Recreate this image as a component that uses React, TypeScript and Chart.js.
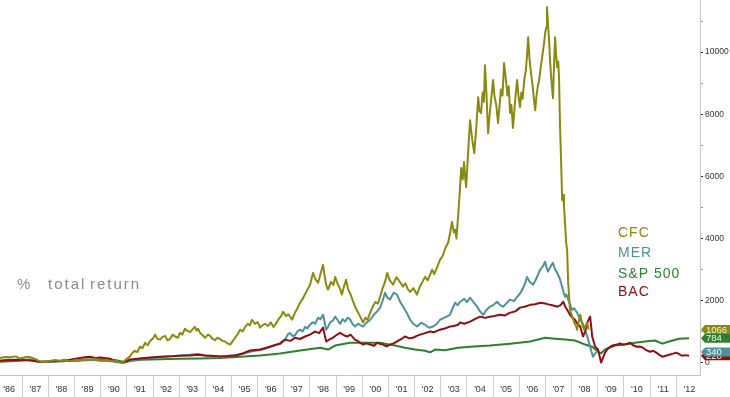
import React, { useEffect, useRef } from 'react';
import { Chart, registerables } from 'chart.js';

Chart.register(...registerables);

// ---- axis labels / ticks ----
const xTickLabels = ["'86", "'87", "'88", "'89", "'90", "'91", "'92", "'93", "'94", "'95", "'96", "'97", "'98", "'99", "'00", "'01", "'02", "'03", "'04", "'05", "'06", "'07", "'08", "'09", "'10", "'11", "'12"];
const firstLabelYear = 1986.5;
const yTickValues = [0, 1000, 2000, 3000, 4000, 5000, 6000, 7000, 8000, 9000, 10000, 11000];
const X_MIN = 1986.15;
const X_MAX = 2012.91;
const Y_MIN = -400;
const Y_MAX = 11680;

// ---- series: [year, % total return] ----
const cfc: [number, number][] = [
  [1986.15, 150], [1986.35, 180], [1986.54, 170], [1986.75, 200], [1986.92, 130], [1987.19, 190], [1987.3, 170],
  [1987.5, 120], [1987.68, 40], [1987.9, 20], [1988.06, 50], [1988.25, 80], [1988.45, 60], [1988.65, 90],
  [1988.83, 40], [1989.0, 80], [1989.21, 70], [1989.4, 110], [1989.59, 90], [1989.8, 120], [1989.98, 60],
  [1990.2, 90], [1990.36, 50], [1990.55, 70], [1990.74, 10], [1990.85, 20], [1991.0, 120], [1991.12, 200],
  [1991.2, 300], [1991.3, 380], [1991.4, 340], [1991.5, 510], [1991.6, 470], [1991.7, 640], [1991.8, 560],
  [1991.89, 700], [1992.0, 780], [1992.08, 900], [1992.15, 780], [1992.27, 740], [1992.35, 820], [1992.46, 860],
  [1992.55, 720], [1992.65, 760], [1992.75, 900], [1992.84, 840], [1992.95, 800], [1993.03, 960], [1993.12, 900],
  [1993.22, 1090], [1993.32, 1020], [1993.42, 980], [1993.5, 1060], [1993.6, 1150], [1993.66, 1030], [1993.72, 1090],
  [1993.8, 950], [1993.9, 880], [1993.99, 800], [1994.1, 900], [1994.18, 860], [1994.28, 760], [1994.37, 720],
  [1994.46, 800], [1994.56, 760], [1994.65, 700], [1994.75, 680], [1994.85, 620], [1994.95, 580], [1995.05, 700],
  [1995.14, 800], [1995.24, 920], [1995.33, 1060], [1995.43, 1000], [1995.52, 1150], [1995.62, 1250], [1995.7, 1200],
  [1995.78, 1380], [1995.9, 1250], [1996.0, 1300], [1996.09, 1125], [1996.18, 1200], [1996.28, 1250], [1996.4, 1180],
  [1996.5, 1300], [1996.6, 1150], [1996.67, 1220], [1996.8, 1400], [1996.9, 1500], [1996.97, 1640], [1997.08, 1500],
  [1997.18, 1550], [1997.32, 1380], [1997.42, 1600], [1997.52, 1750], [1997.62, 1930], [1997.72, 2050], [1997.81, 2200],
  [1997.9, 2350], [1998.0, 2500], [1998.06, 2700], [1998.12, 2890], [1998.2, 2700], [1998.31, 2570], [1998.4, 2850],
  [1998.5, 3150], [1998.56, 2800], [1998.62, 2500], [1998.69, 2350], [1998.8, 2600], [1998.9, 2500], [1998.96, 2760],
  [1999.05, 2550], [1999.14, 2400], [1999.22, 2190], [1999.3, 2450], [1999.38, 2670], [1999.46, 2350], [1999.55, 2200],
  [1999.65, 1960], [1999.75, 1750], [1999.85, 1600], [1999.92, 1480], [2000.03, 1290], [2000.12, 1450], [2000.2, 1380],
  [2000.3, 1610], [2000.4, 1800], [2000.5, 1950], [2000.6, 1900], [2000.68, 2120], [2000.78, 2400], [2000.87, 2600],
  [2000.95, 2890], [2001.05, 2650], [2001.18, 2510], [2001.3, 2750], [2001.44, 2600], [2001.55, 2450], [2001.65, 2550],
  [2001.75, 2350], [2001.83, 2280], [2001.95, 2400], [2002.09, 2190], [2002.2, 2450], [2002.3, 2600], [2002.4, 2760],
  [2002.5, 2650], [2002.6, 2850], [2002.67, 2990], [2002.75, 2850], [2002.85, 3050], [2002.97, 3310], [2003.08, 3450],
  [2003.18, 3700], [2003.28, 3860], [2003.34, 4100], [2003.43, 4530], [2003.5, 4200], [2003.55, 4280], [2003.6, 4000],
  [2003.66, 4690], [2003.72, 5400], [2003.78, 6270], [2003.84, 5900], [2003.89, 6460], [2003.93, 6000], [2003.97, 5660],
  [2004.04, 6700], [2004.12, 7810], [2004.2, 7200], [2004.28, 6750], [2004.36, 7600], [2004.43, 8550], [2004.48, 8100],
  [2004.54, 8040], [2004.6, 8700], [2004.65, 8400], [2004.69, 9580], [2004.75, 8600], [2004.81, 7390], [2004.87, 8000],
  [2004.93, 8500], [2005.0, 9100], [2005.05, 8600], [2005.12, 8300], [2005.19, 7720], [2005.25, 8300], [2005.3, 8800],
  [2005.36, 8600], [2005.42, 9650], [2005.48, 9200], [2005.55, 8600], [2005.6, 8900], [2005.65, 8040], [2005.7, 8300],
  [2005.76, 7560], [2005.82, 8200], [2005.87, 8700], [2005.92, 9100], [2005.97, 8600], [2006.03, 8230], [2006.08, 8700],
  [2006.13, 8500], [2006.19, 9100], [2006.25, 9400], [2006.3, 9900], [2006.34, 10480], [2006.4, 9700], [2006.45, 9320],
  [2006.5, 9000], [2006.56, 8500], [2006.61, 8130], [2006.66, 8600], [2006.71, 8900], [2006.76, 9100], [2006.82, 9500],
  [2006.87, 9800], [2006.91, 10060], [2006.95, 10300], [2006.99, 10610], [2007.03, 10800], [2007.06, 11450], [2007.1, 10900],
  [2007.14, 10380], [2007.18, 9700], [2007.22, 9200], [2007.26, 8800], [2007.29, 8520], [2007.33, 9600], [2007.37, 10480],
  [2007.41, 9900], [2007.45, 9520], [2007.49, 9700], [2007.52, 9200], [2007.56, 7590], [2007.6, 6500], [2007.64, 5240],
  [2007.68, 5400], [2007.71, 5020], [2007.75, 4500], [2007.79, 3900], [2007.83, 3630], [2007.87, 2570], [2007.94, 1700],
  [2008.02, 1500], [2008.1, 1290], [2008.16, 1200], [2008.21, 1060], [2008.27, 1300], [2008.33, 1540], [2008.4, 1250],
  [2008.48, 1060], [2008.55, 1200], [2008.6, 1290], [2008.65, 1066],
];

const mer: [number, number][] = [
  [1986.15, 60], [1986.5, 90], [1986.92, 80], [1987.3, 100], [1987.68, 20], [1988.1, 30], [1988.45, 40],
  [1988.85, 60], [1989.21, 80], [1989.6, 100], [1989.98, 60], [1990.3, 50], [1990.55, 30], [1990.85, -10],
  [1991.2, 60], [1991.5, 120], [1991.9, 150], [1992.27, 180], [1992.65, 200], [1993.03, 230], [1993.4, 250],
  [1993.72, 280], [1994.0, 230], [1994.37, 210], [1994.65, 190], [1994.95, 220], [1995.33, 260], [1995.5, 300],
  [1995.71, 350], [1995.9, 380], [1996.09, 400], [1996.3, 450], [1996.47, 510], [1996.65, 560], [1996.86, 600],
  [1996.95, 680], [1997.05, 740], [1997.15, 900], [1997.24, 960], [1997.33, 850], [1997.43, 880], [1997.52, 1000],
  [1997.62, 1060], [1997.72, 1000], [1997.81, 1150], [1997.9, 1100], [1998.0, 1220], [1998.1, 1300], [1998.2, 1250],
  [1998.31, 1450], [1998.4, 1400], [1998.5, 1540], [1998.56, 1300], [1998.62, 1060], [1998.69, 1150], [1998.77, 1290],
  [1998.87, 1350], [1998.96, 1480], [1999.05, 1380], [1999.15, 1250], [1999.25, 1400], [1999.34, 1320], [1999.44, 1450],
  [1999.53, 1400], [1999.62, 1250], [1999.72, 1160], [1999.85, 1250], [2000.03, 1160], [2000.15, 1280], [2000.3, 1380],
  [2000.45, 1550], [2000.57, 1650], [2000.68, 1770], [2000.78, 2000], [2000.87, 2250], [2000.95, 2100], [2001.06, 2030],
  [2001.2, 2250], [2001.33, 2190], [2001.45, 1950], [2001.56, 1800], [2001.7, 1600], [2001.83, 1380], [2001.95, 1250],
  [2002.09, 1160], [2002.25, 1280], [2002.4, 1220], [2002.55, 1120], [2002.71, 1160], [2002.85, 1250], [2002.97, 1380],
  [2003.15, 1450], [2003.35, 1540], [2003.45, 1750], [2003.55, 1930], [2003.65, 1850], [2003.74, 1960], [2003.9, 2050],
  [2004.0, 1950], [2004.12, 2090], [2004.25, 1950], [2004.39, 1800], [2004.5, 1650], [2004.62, 1540], [2004.75, 1700],
  [2004.88, 1800], [2005.0, 1850], [2005.15, 1960], [2005.27, 1850], [2005.38, 1800], [2005.5, 1900], [2005.65, 2030],
  [2005.8, 1980], [2005.92, 2120], [2006.05, 2250], [2006.15, 2410], [2006.22, 2550], [2006.3, 2760], [2006.4, 2600],
  [2006.53, 2510], [2006.65, 2700], [2006.8, 2990], [2006.9, 3100], [2006.99, 3250], [2007.05, 3050], [2007.1, 2930],
  [2007.2, 3100], [2007.29, 3210], [2007.37, 3000], [2007.45, 2890], [2007.55, 2700], [2007.64, 2440], [2007.7, 2250],
  [2007.75, 2120], [2007.8, 2200], [2007.87, 2030], [2007.95, 1850], [2008.02, 1700], [2008.1, 1750], [2008.21, 1610],
  [2008.3, 1450], [2008.41, 1290], [2008.5, 1100], [2008.6, 840], [2008.71, 510], [2008.76, 350], [2008.82, 190],
  [2008.95, 340],
];

const bac: [number, number][] = [
  [1986.15, 60], [1986.5, 80], [1986.92, 90], [1987.3, 70], [1987.68, 30], [1988.1, 40], [1988.45, 60],
  [1988.83, 90], [1989.21, 150], [1989.4, 170], [1989.59, 190], [1989.8, 150], [1989.98, 160], [1990.2, 140],
  [1990.36, 120], [1990.55, 60], [1990.85, 0], [1991.12, 100], [1991.5, 130], [1991.89, 160], [1992.27, 190],
  [1992.65, 200], [1993.03, 220], [1993.42, 230], [1993.7, 250], [1993.99, 225], [1994.3, 210], [1994.56, 200],
  [1994.85, 210], [1995.14, 230], [1995.45, 300], [1995.71, 390], [1996.09, 420], [1996.3, 470], [1996.47, 510],
  [1996.65, 560], [1996.86, 620], [1997.05, 740], [1997.25, 700], [1997.43, 800], [1997.62, 760], [1997.81, 840],
  [1998.0, 900], [1998.19, 1000], [1998.35, 950], [1998.5, 1125], [1998.56, 900], [1998.62, 680], [1998.75, 750],
  [1998.88, 800], [1999.0, 880], [1999.15, 960], [1999.3, 880], [1999.42, 840], [1999.55, 900], [1999.72, 740],
  [1999.85, 680], [2000.03, 580], [2000.15, 620], [2000.3, 580], [2000.45, 540], [2000.57, 640], [2000.7, 600],
  [2000.8, 580], [2000.92, 520], [2001.06, 580], [2001.2, 620], [2001.33, 680], [2001.5, 760], [2001.63, 840],
  [2001.8, 780], [2001.94, 800], [2002.08, 860], [2002.21, 900], [2002.4, 950], [2002.59, 1000], [2002.75, 980],
  [2002.97, 1060], [2003.15, 1100], [2003.35, 1160], [2003.5, 1180], [2003.66, 1220], [2003.74, 1290], [2003.9, 1250],
  [2004.12, 1320], [2004.3, 1400], [2004.5, 1480], [2004.7, 1440], [2004.88, 1480], [2005.05, 1500], [2005.27, 1540],
  [2005.45, 1520], [2005.65, 1610], [2005.85, 1650], [2006.03, 1770], [2006.2, 1800], [2006.42, 1860], [2006.6, 1880],
  [2006.8, 1930], [2007.0, 1900], [2007.18, 1860], [2007.3, 1840], [2007.45, 1800], [2007.58, 1850], [2007.68, 1960],
  [2007.76, 1800], [2007.83, 1700], [2007.94, 1540], [2008.03, 1450], [2008.13, 1380], [2008.22, 1250], [2008.33, 1160],
  [2008.44, 840], [2008.52, 1000], [2008.6, 1290], [2008.71, 1480], [2008.79, 840], [2008.9, 510], [2009.01, 420],
  [2009.13, 0], [2009.2, 150], [2009.28, 320], [2009.38, 450], [2009.48, 510], [2009.6, 560], [2009.74, 580],
  [2009.85, 620], [2009.97, 580], [2010.1, 600], [2010.24, 640], [2010.35, 560], [2010.5, 510], [2010.6, 520],
  [2010.73, 480], [2010.85, 400], [2011.0, 350], [2011.12, 380], [2011.24, 320], [2011.35, 250], [2011.47, 190],
  [2011.6, 220], [2011.73, 250], [2011.85, 280], [2012.0, 320], [2012.1, 280], [2012.22, 220], [2012.35, 240],
  [2012.49, 220],
];

const spx: [number, number][] = [
  [1986.15, 30], [1986.92, 60], [1987.3, 90], [1987.68, 20], [1988.45, 40], [1989.21, 70], [1989.98, 100],
  [1990.55, 80], [1990.85, 30], [1991.5, 90], [1992.27, 110], [1993.03, 120], [1993.8, 130], [1994.56, 150],
  [1995.33, 190], [1996.09, 225], [1996.86, 290], [1997.62, 390], [1998.39, 480], [1998.69, 420], [1998.96, 550],
  [1999.53, 640], [2000.11, 640], [2000.68, 640], [2000.87, 610], [2001.25, 550], [2001.63, 480], [2002.02, 420],
  [2002.4, 380], [2002.59, 330], [2002.78, 420], [2003.16, 400], [2003.66, 480], [2004.12, 510], [2004.88, 550],
  [2005.65, 610], [2006.42, 680], [2006.99, 800], [2007.37, 770], [2007.75, 740], [2008.13, 710], [2008.52, 580],
  [2008.79, 510], [2009.01, 350], [2009.13, 300], [2009.28, 420], [2009.67, 550], [2010.04, 580], [2010.43, 640],
  [2010.81, 680], [2011.19, 710], [2011.47, 610], [2011.73, 680], [2012.11, 770], [2012.49, 784],
];

// ---- labels / end tags ----
const seriesNames = ['CFC', 'MER', 'S&P 500', 'BAC'];
const seriesColors = ['#8a8a10', '#4d9299', '#2f7f2f', '#8e0f12'];
const endValues = [1066, 340, 784, 220];
const endLabels = ['1066', '340', '784', '220'];
const annotationText = ['%', 'total', 'return'];

const FONT = "'Liberation Sans', Arial, sans-serif";

const overlayPlugin = {
  id: 'overlay',
  afterDraw(chart: any) {
    const ctx = chart.ctx as CanvasRenderingContext2D;
    const area = chart.chartArea;
    const ys = chart.scales.y;
    ctx.save();

    // "% total return"
    ctx.fillStyle = '#8a8a8a';
    ctx.textBaseline = 'middle';
    ctx.textAlign = 'left';
    ctx.font = `15px ${FONT}`;
    (ctx as any).letterSpacing = '2px';
    const wordX = [17, 48, 90];
    annotationText.forEach((w, i) => ctx.fillText(w, wordX[i], 285));

    // hand-written style legend
    (ctx as any).letterSpacing = '1px';
    ctx.font = `14px ${FONT}`;
    const legendY = [233, 253, 274, 292];
    seriesNames.forEach((n, i) => {
      ctx.fillStyle = seriesColors[i];
      ctx.fillText(n, 618, legendY[i]);
    });
    (ctx as any).letterSpacing = '0px';

    // end-value tags (drawn bottom to top so the lower ones sit behind)
    const order = [3, 1, 2, 0];
    ctx.font = `9.5px ${FONT}`;
    order.forEach((i) => {
      const y = ys.getPixelForValue(endValues[i]);
      const x0 = area.right + 1;
      const h = 4.5;
      ctx.beginPath();
      ctx.moveTo(x0, y);
      ctx.lineTo(x0 + 4, y - h);
      ctx.lineTo(730, y - h);
      ctx.lineTo(730, y + h);
      ctx.lineTo(x0 + 4, y + h);
      ctx.closePath();
      ctx.fillStyle = seriesColors[i];
      ctx.fill();
      ctx.fillStyle = '#f4f4e8';
      ctx.fillText(endLabels[i], x0 + 5, y + 0.5);
    });
    ctx.restore();
  },
};

export default function App() {
  const ref = useRef<HTMLCanvasElement>(null);
  useEffect(() => {
    document.body.style.margin = '0';
    const canvas = ref.current!;
    const mk = (label: string, pts: [number, number][], color: string) => ({
      label,
      data: pts.map(([x, y]) => ({ x, y })),
      borderColor: color,
      backgroundColor: color,
      borderWidth: 2,
      pointRadius: 0,
      tension: 0,
      fill: false,
      borderJoinStyle: 'round' as const,
    });
    const chart = new Chart(canvas, {
      type: 'line',
      data: {
        datasets: [
          mk('CFC', cfc, seriesColors[0]),
          mk('BAC', bac, seriesColors[3]),
          mk('MER', mer, seriesColors[1]),
          mk('S&P 500', spx, seriesColors[2]),
        ],
      },
      options: {
        responsive: false,
        animation: false,
        devicePixelRatio: 1,
        layout: { padding: 0 },
        plugins: { legend: { display: false }, tooltip: { enabled: false } },
        scales: {
          x: {
            type: 'linear',
            min: X_MIN,
            max: X_MAX,
            afterBuildTicks: (s: any) => {
              s.ticks = xTickLabels.map((_, i) => ({ value: firstLabelYear + i }));
            },
            afterFit: (s: any) => {
              s.height = 22;
              s.paddingLeft = 0;
              s.paddingRight = 0;
            },
            ticks: {
              autoSkip: false,
              maxRotation: 0,
              minRotation: 0,
              padding: -13,
              color: '#333',
              font: { family: FONT, size: 9 },
              callback: (_v: any, i: number) => xTickLabels[i],
            },
            grid: { offset: true, drawOnChartArea: false, tickLength: 22, color: '#cfcfcf' },
            border: { color: '#c4c4c4' },
          },
          y: {
            type: 'linear',
            position: 'right',
            min: Y_MIN,
            max: Y_MAX,
            afterBuildTicks: (s: any) => {
              s.ticks = yTickValues.map((v) => ({ value: v }));
            },
            afterFit: (s: any) => {
              s.width = 30;
              s.paddingTop = 0;
              s.paddingBottom = 0;
            },
            ticks: {
              padding: 2,
              color: '#333',
              font: { family: FONT, size: 8.5 },
              callback: (v: any) => (v % 2000 === 0 ? String(v) : ''),
            },
            grid: {
              drawOnChartArea: false,
              tickLength: 3,
              tickColor: (c: any) => (c.tick && c.tick.value % 2000 === 0 ? '#333' : '#999'),
            },
            border: { color: '#c4c4c4' },
          },
        },
      },
      plugins: [overlayPlugin],
    });
    return () => chart.destroy();
  }, []);
  return (
    <div style={{ position: 'absolute', left: 0, top: 0, width: 730, height: 397, background: '#fff' }}>
      <canvas ref={ref} width={730} height={397} style={{ display: 'block' }} />
    </div>
  );
}
